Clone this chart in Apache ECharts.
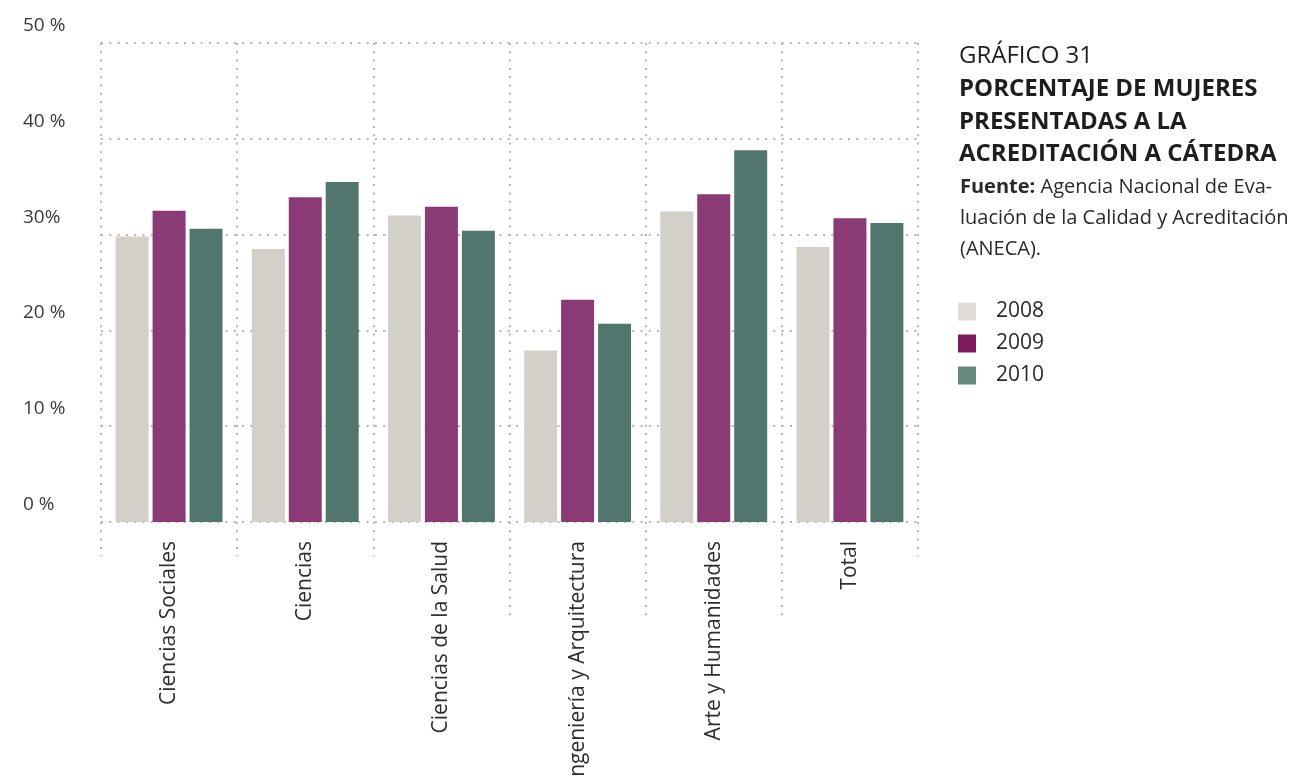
<!DOCTYPE html>
<html>
<head>
<meta charset="utf-8">
<script src="https://cdn.jsdelivr.net/npm/echarts@6/dist/echarts.min.js"></script>
<style>
  html, body { margin: 0; padding: 0; background: #fff; }
  #chart { width: 1298px; height: 776px; }
</style>
</head>
<body>
<div id="chart"></div>
<script>
const categories = ['Ciencias Sociales', 'Ciencias', 'Ciencias de la Salud', 'Ingeniería y Arquitectura', 'Arte y Humanidades', 'Total'];
const years = ['2008', '2009', '2010'];
const values2008 = [29.8, 28.5, 32.0, 17.9, 32.4, 28.7];
const values2009 = [32.5, 33.9, 32.9, 23.2, 34.2, 31.7];
const values2010 = [30.6, 35.5, 30.4, 20.7, 38.8, 31.2];
const yTickLabels = ['0 %', '10 %', '20 %', '30%', '40 %', '50 %'];
// category boundaries whose separator runs further down
const longTicks = [3, 4, 5];

const barColors = ['#d3cfc9', '#8a3a75', '#51766d'];
const legendColors = ['#e0dcd8', '#7b1a5e', '#658a80'];
const dotColor = '#bcb4b1';
const font = '"Open Sans", "Noto Sans", sans-serif';

const dotted = { color: dotColor, width: 2, type: [2, 6.3] };

let myChart = echarts.init(document.getElementById('chart'));
let option = {
  backgroundColor: '#fff',
  textStyle: { fontFamily: font },
  title: [
    {
      left: 954,
      top: 35,
      text: '{a|GRÁFICO 31}\n{b|PORCENTAJE DE MUJERES}\n{b|PRESENTADAS A LA}\n{b|ACREDITACIÓN A CÁTEDRA}',
      textStyle: {
        rich: {
          a: { fontFamily: font, fontSize: 24, fontWeight: 'normal', color: '#1e1e1e', lineHeight: 33 },
          b: { fontFamily: font, fontSize: 24, fontWeight: 'bold', color: '#1e1e1e', lineHeight: 32.5 }
        }
      }
    },
    {
      left: 955,
      top: 167,
      text: '{f|Fuente:}{n| Agencia Nacional de Eva-}\n{n|luación de la Calidad y Acreditación}\n{n|(ANECA).}',
      textStyle: {
        rich: {
          f: { fontFamily: font, fontSize: 20, fontWeight: 'bold', color: '#2a2a2a', lineHeight: 31 },
          n: { fontFamily: font, fontSize: 20, fontWeight: 'normal', color: '#2a2a2a', lineHeight: 31 }
        }
      }
    }
  ],
  legend: {
    orient: 'vertical',
    left: 958,
    top: 301,
    padding: 0,
    itemWidth: 18,
    itemHeight: 18,
    itemGap: 11,
    icon: 'rect',
    textStyle: { fontFamily: font, fontSize: 21, color: '#2a2a2a', padding: [0, 0, 0, 15] },
    data: years.map((y, i) => ({ name: y, itemStyle: { color: legendColors[i] } }))
  },
  grid: {
    left: 101,
    right: 380,
    top: 43,
    bottom: 254,
    containLabel: false,
    outerBoundsMode: 'none'
  },
  xAxis: [
    {
      type: 'category',
      data: categories,
      axisLine: { show: false },
      axisTick: { show: true, interval: 0, length: 34, lineStyle: dotted },
      splitLine: { show: true, interval: 0, lineStyle: dotted },
      axisLabel: {
        interval: 0,
        rotate: 90,
        margin: 19,
        fontFamily: font,
        fontSize: 21,
        color: '#2e2e2e'
      }
    },
    {
      type: 'value',
      min: 0,
      max: categories.length,
      position: 'bottom',
      axisLine: { show: false },
      axisLabel: { show: false },
      splitLine: { show: false },
      axisTick: {
        show: true,
        length: 98,
        customValues: longTicks,
        lineStyle: dotted
      }
    }
  ],
  yAxis: {
    type: 'value',
    min: 0,
    max: 50,
    interval: 10,
    axisLine: { show: false },
    axisTick: { show: false },
    splitLine: { show: true, lineStyle: dotted },
    axisLabel: {
      align: 'left',
      verticalAlign: 'bottom',
      margin: 78,
      padding: [0, 0, 8, 0],
      fontFamily: font,
      fontSize: 19,
      color: '#3a3a3a',
      formatter: function (v) { return yTickLabels[Math.round(v / 10)]; }
    }
  },
  series: [
    { name: years[0], type: 'bar', xAxisIndex: 0, data: values2008, barWidth: 33, barGap: '12%', itemStyle: { color: barColors[0] } },
    { name: years[1], type: 'bar', xAxisIndex: 0, data: values2009, barWidth: 33, barGap: '12%', itemStyle: { color: barColors[1] } },
    { name: years[2], type: 'bar', xAxisIndex: 0, data: values2010, barWidth: 33, barGap: '12%', itemStyle: { color: barColors[2] } }
  ]
};
myChart.setOption(option);
window.addEventListener('resize', () => { myChart.resize(); });
</script>
</body>
</html>
